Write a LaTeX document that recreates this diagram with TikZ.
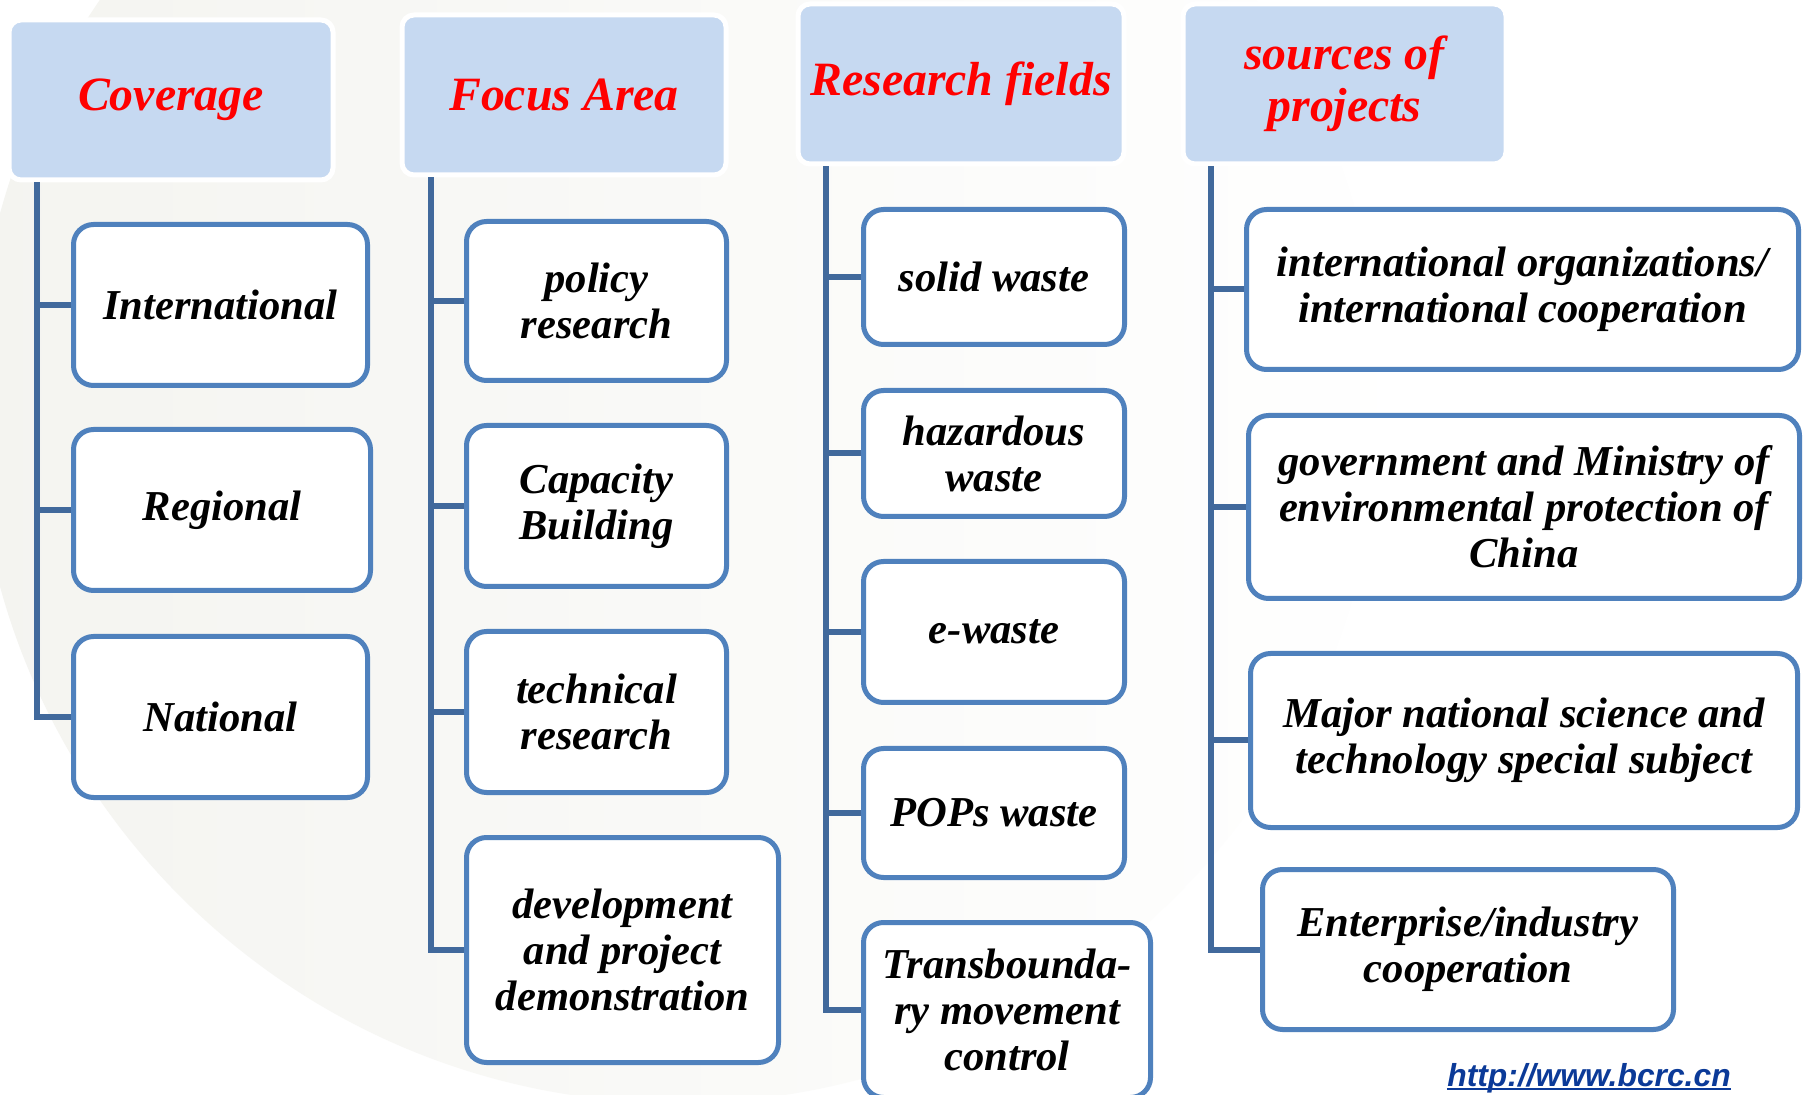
\documentclass[tikz,border=0pt]{standalone}
\usepackage{fontspec}
\setmainfont{Liberation Serif}
\newfontfamily\urlfont{Liberation Sans}
\usetikzlibrary{calc}
\definecolor{hdrfill}{HTML}{C6D9F1}
\definecolor{boxline}{HTML}{4F81BD}
\definecolor{spinecol}{HTML}{41699C}
\definecolor{hdrtext}{HTML}{FF0000}
\definecolor{urlblue}{HTML}{0B3A98}
\definecolor{bggrey}{HTML}{F4F4F0}
\tikzset{
  hdr/.style={draw=white, line width=2.5pt, fill=hdrfill, rounded corners=6pt,
    text=hdrtext, align=center, inner sep=0pt,
    font=\fontsize{23.9}{26}\selectfont\bfseries\itshape},
  item/.style={draw=boxline, line width=2.5pt, fill=white, rounded corners=10pt,
    align=center, inner sep=0pt,
    font=\fontsize{21.3}{23}\selectfont\bfseries\itshape},
  conn/.style={draw=spinecol, line width=3pt},
}
\begin{document}
\begin{tikzpicture}[x=0.5pt,y=-0.5pt]
\useasboundingbox (0,0) rectangle (1804,1095);
% background
\fill[white] (0,0) rectangle (1804,1095);
\begin{scope}
  \clip (0,0) rectangle (1804,1095);
  \shade[left color=bggrey, right color=white!97!bggrey] (678,400) circle[radius=703];
\end{scope}

% headers
\node[hdr, minimum width=162pt, minimum height=80pt] (h1) at (171,100) {\raisebox{-2pt}{Coverage}};
\node[hdr, minimum width=162pt, minimum height=80pt] (h2) at (564,95) {Focus Area};
\node[hdr, minimum width=163pt, minimum height=80pt] (h3) at (961,84) {Research fields};
\node[hdr, minimum width=161.5pt, minimum height=80pt] (h4) at (1344.5,84) {sources of\\projects};

% column 1
\node[item, minimum width=147pt, minimum height=80.5pt] (intl) at (220.5,305) {International};
\node[item, minimum width=148.5pt, minimum height=80.5pt] (reg) at (222,510) {Regional};
\node[item, minimum width=147pt, minimum height=80.5pt] (nat) at (220.5,717) {National};

% column 2
\node[item, minimum width=130pt, minimum height=79.5pt] (pol) at (596.5,301) {policy\\research};
\node[item, minimum width=130pt, minimum height=80.5pt] (cap) at (596.5,506) {Capacity\\Building};
\node[item, minimum width=130pt, minimum height=80.5pt] (tech) at (596.5,712) {technical\\research};
\node[item, minimum width=156pt, minimum height=112.5pt] (dev) at (622.5,950) {development\\and project\\demonstration};

% column 3
\node[item, minimum width=130.5pt, minimum height=67.5pt] (solid) at (994,277) {solid waste};
\node[item, minimum width=130.5pt, minimum height=63pt] (haz) at (994,453.5) {hazardous\\waste};
\node[item, minimum width=130.5pt, minimum height=70.5pt] (ew) at (994,632) {e-waste};
\node[item, minimum width=130.5pt, minimum height=64.5pt] (pops) at (994,813) {POPs waste};
\node[item, minimum width=143.5pt, minimum height=87.5pt] (trans) at (1007,1010) {Transbounda-\\ry movement\\control};

% column 4
\node[item, minimum width=276pt, minimum height=80pt] (io) at (1522.5,289.5) {international organizations/\\international cooperation};
\node[item, minimum width=275.5pt, minimum height=91.5pt] (gov) at (1524,507) {government and Ministry of\\environmental protection of\\China};
\node[item, minimum width=273.5pt, minimum height=87pt] (maj) at (1524,740.5) {Major national science and\\technology special subject};
\node[item, minimum width=205.5pt, minimum height=80pt] (ent) at (1468,949.5) {Enterprise/industry\\cooperation};

% spines
\coordinate (s1) at ([xshift=15pt]h1.south west);
\coordinate (s2) at ([xshift=15.5pt]h2.south west);
\coordinate (s3) at ([xshift=15pt]h3.south west);
\coordinate (s4) at ([xshift=15pt]h4.south west);

\draw[conn] (s1) |- (nat.west);
\draw[conn] (intl.west) -- (intl.west -| s1);
\draw[conn] (reg.west) -- (reg.west -| s1);

\draw[conn] (s2) |- (dev.west);
\draw[conn] (pol.west) -- (pol.west -| s2);
\draw[conn] (cap.west) -- (cap.west -| s2);
\draw[conn] (tech.west) -- (tech.west -| s2);

\draw[conn] (s3) |- (trans.west);
\draw[conn] (solid.west) -- (solid.west -| s3);
\draw[conn] (haz.west) -- (haz.west -| s3);
\draw[conn] (ew.west) -- (ew.west -| s3);
\draw[conn] (pops.west) -- (pops.west -| s3);

\draw[conn] (s4) |- (ent.west);
\draw[conn] (io.west) -- (io.west -| s4);
\draw[conn] (gov.west) -- (gov.west -| s4);
\draw[conn] (maj.west) -- (maj.west -| s4);

% url
\node[anchor=base, inner sep=0pt, text=urlblue,
  font=\urlfont\fontsize{15.9}{18}\selectfont\bfseries\itshape] (url) at (1589,1086)
  {http://www.bcrc.cn};
\draw[urlblue, line width=1.1pt] ([yshift=-1.6pt]url.base west) -- ([yshift=-1.6pt]url.base east);
\end{tikzpicture}
\end{document}
